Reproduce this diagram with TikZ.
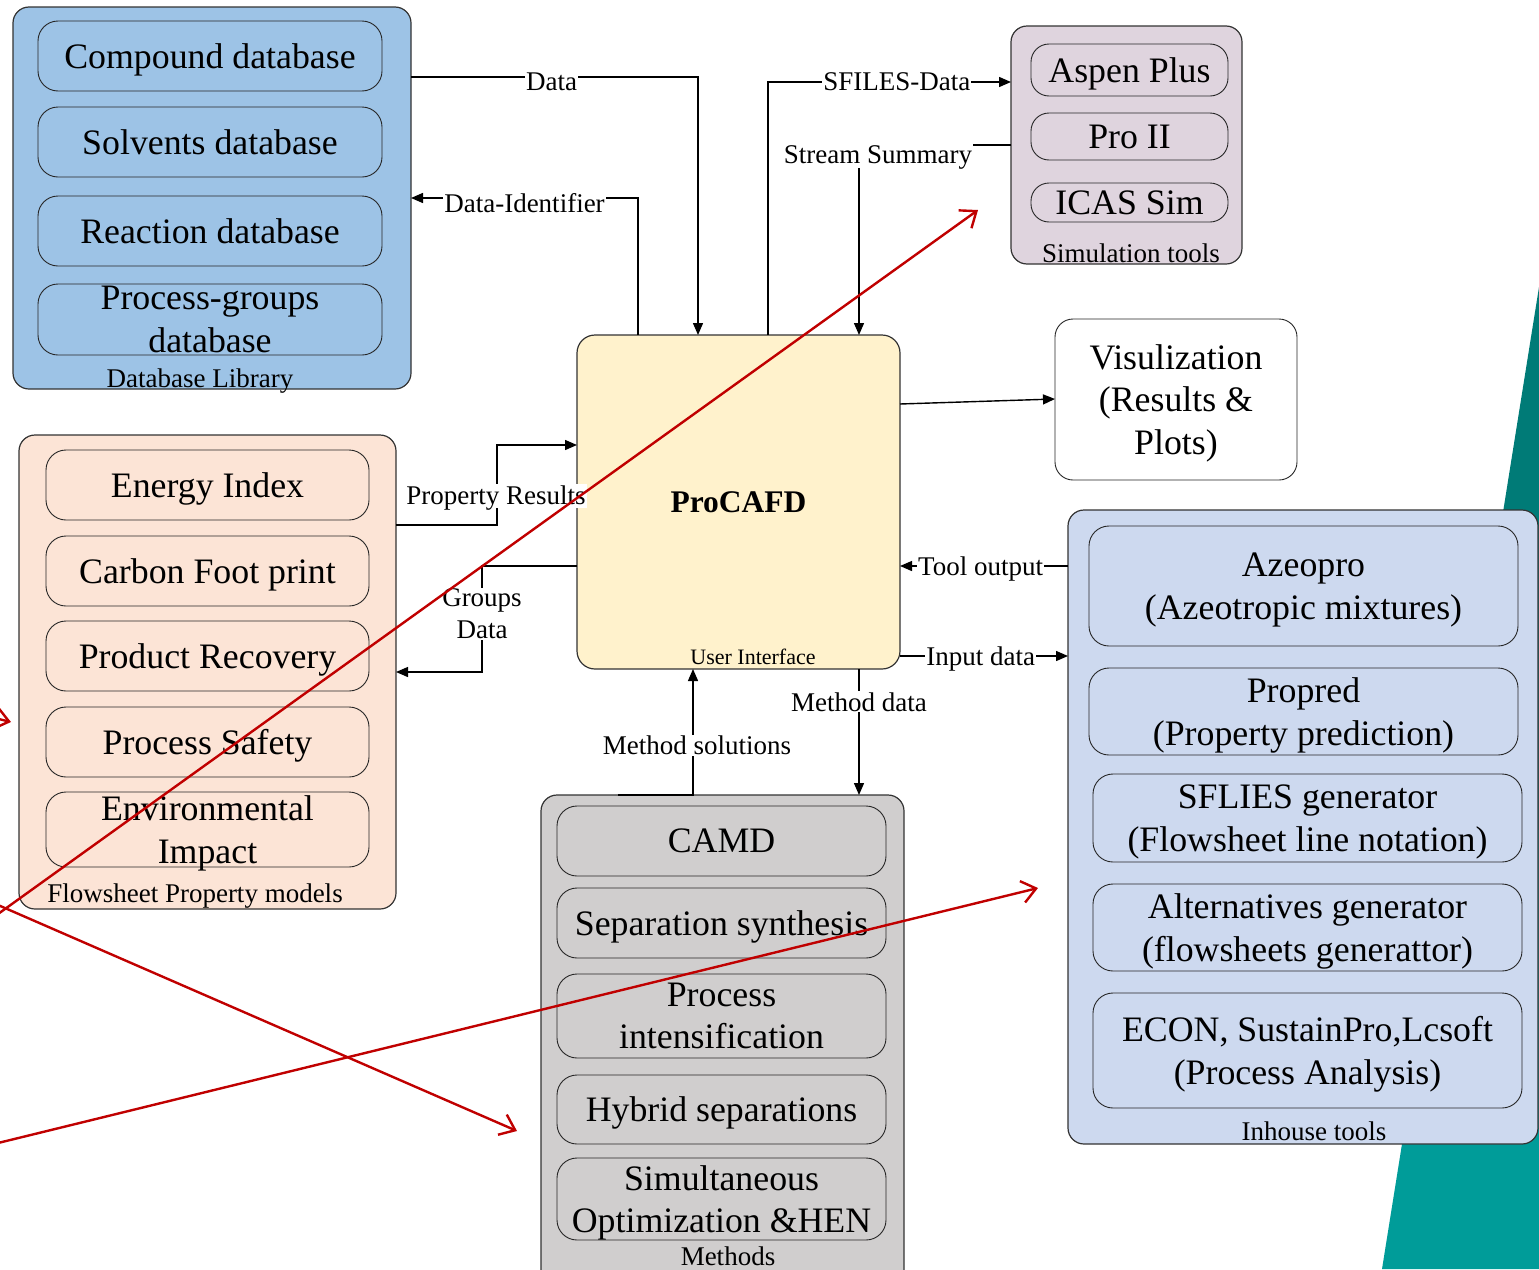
\documentclass[tikz,border=0pt]{standalone}
\usepackage{fontspec}
\setmainfont{Liberation Serif}
\usetikzlibrary{arrows.meta}

\definecolor{dbfill}{HTML}{9DC3E6}
\definecolor{simfill}{HTML}{DFD4DE}
\definecolor{corefill}{HTML}{FFF2CC}
\definecolor{propfill}{HTML}{FCE4D6}
\definecolor{methfill}{HTML}{D0CECE}
\definecolor{toolfill}{HTML}{CDD9EF}
\definecolor{tealdark}{HTML}{007B77}
\definecolor{teallight}{HTML}{009C99}
\definecolor{redline}{HTML}{C00000}

\tikzset{
  container/.style={draw=black!80, line width=1.2pt, rounded corners=16pt,
    inner sep=0pt, outer sep=0pt},
  item/.style={draw=black!85, line width=0.9pt, rounded corners=20pt,
    inner sep=0pt, outer sep=0pt, align=center, text depth=0pt,
    font=\fontsize{35.8}{42.5}\selectfont},
  caption/.style={inner sep=0pt, text depth=0pt, font=\fontsize{27}{32}\selectfont},
  lbl/.style={fill=white, inner sep=1pt, align=center, text depth=0pt,
    font=\fontsize{27}{32}\selectfont},
  plain/.style={line width=1.4pt},
  link/.style={line width=1.4pt, -{Triangle[length=12pt,width=10pt]}},
  redarrow/.style={draw=redline, line width=2.4pt,
    -{Straight Barb[length=14pt,width=22pt]}}
}

\begin{document}
\begin{tikzpicture}[x=1pt,y=-1pt]
\useasboundingbox (0,0) rectangle (1539,1269);
\clip (0,0) rectangle (1539,1269);

% teal band on the right
\fill[tealdark] (1539,287) -- (1452.2,830) -- (1539,830) -- cycle;
\fill[teallight] (1452.2,830) -- (1382,1269) -- (1539,1269) -- (1539,830) -- cycle;

% ---------------- Database library
\node[container, fill=dbfill, minimum width=398pt, minimum height=382pt] (dblib) at (212,198) {};
\node[item, minimum width=344pt, minimum height=70pt] (compound) at (210,56) {Compound database};
\node[item, minimum width=344pt, minimum height=70pt] (solvents) at (210,142) {Solvents database};
\node[item, minimum width=344pt, minimum height=70pt] (reaction) at (210,231) {Reaction database};
\node[item, minimum width=344pt, minimum height=71pt] (pgroups) at (210,319.5) {Process-groups\\database};
\node[caption] (dbcap) at (200,378) {Database Library};

% ---------------- Simulation tools
\node[container, fill=simfill, minimum width=231pt, minimum height=238pt] (simtools) at (1126.5,145) {};
\node[item, rounded corners=18pt, minimum width=197pt, minimum height=52pt] (aspen) at (1129.5,70) {Aspen Plus};
\node[item, rounded corners=18pt, minimum width=197pt, minimum height=47pt] (proii) at (1129.5,136.5) {Pro II};
\node[item, rounded corners=18pt, minimum width=197pt, minimum height=39pt] (icas) at (1129.5,202.5) {ICAS Sim};
\node[caption] (simcap) at (1131,253) {Simulation tools};

% ---------------- Core
\node[container, fill=corefill, rounded corners=18pt, minimum width=323pt, minimum height=334pt,
      font=\bfseries\fontsize{31.5}{38}\selectfont] (procafd) at (738.5,502) {ProCAFD};
\node[inner sep=0pt, font=\fontsize{22}{26}\selectfont] (ui) at (753,657) {User Interface};

% ---------------- Visualization
\node[item, fill=white, rounded corners=18pt, minimum width=242pt, minimum height=161pt] (visu) at (1176,399.5) {Visulization\\(Results \&\\Plots)};

% ---------------- Flowsheet property models
\node[container, fill=propfill, minimum width=377pt, minimum height=474pt] (fpm) at (207.5,672) {};
\node[item, minimum width=323pt, minimum height=70pt] (energy) at (207.5,485) {Energy Index};
\node[item, minimum width=323pt, minimum height=70pt] (carbon) at (207.5,571) {Carbon Foot print};
\node[item, minimum width=323pt, minimum height=70pt] (recovery) at (207.5,656) {Product Recovery};
\node[item, minimum width=323pt, minimum height=70pt] (safety) at (207.5,742) {Process Safety};
\node[item, minimum width=323pt, minimum height=75pt] (environ) at (207.5,829.5) {Environmental\\Impact};
\node[caption] (fpmcap) at (195,893) {Flowsheet Property models};

% ---------------- Methods
\node[container, fill=methfill, minimum width=363pt, minimum height=490pt] (methods) at (722.5,1040) {};
\node[item, minimum width=329pt, minimum height=70pt] (camd) at (721.5,841) {CAMD};
\node[item, minimum width=329pt, minimum height=70pt] (sepsyn) at (721.5,923) {Separation synthesis};
\node[item, minimum width=329pt, minimum height=84pt] (pint) at (721.5,1016) {Process\\intensification};
\node[item, minimum width=329pt, minimum height=69pt] (hybrid) at (721.5,1109.5) {Hybrid separations};
\node[item, minimum width=329pt, minimum height=82pt] (simopt) at (721.5,1199) {Simultaneous\\Optimization \&HEN};
\node[caption] (methcap) at (728,1256) {Methods};

% ---------------- Inhouse tools
\node[container, fill=toolfill, minimum width=470pt, minimum height=634pt] (inhouse) at (1303,827) {};
\node[item, minimum width=429pt, minimum height=120pt] (azeo) at (1303.5,586) {Azeopro\\(Azeotropic mixtures)};
\node[item, minimum width=429pt, minimum height=87pt] (propred) at (1303.5,711.5) {Propred\\(Property prediction)};
\node[item, minimum width=429pt, minimum height=88pt] (sfiles) at (1307.5,818) {SFLIES generator\\(Flowsheet line notation)};
\node[item, minimum width=429pt, minimum height=87pt] (altgen) at (1307.5,927.5) {Alternatives generator\\(flowsheets generattor)};
\node[item, minimum width=429pt, minimum height=115pt] (econ) at (1307.5,1050.5) {ECON, SustainPro,Lcsoft\\(Process Analysis)};
\node[caption] (inhcap) at (1314,1131) {Inhouse tools};

% ---------------- Connectors
\draw[link] (dblib.east |- 0,77) -| (procafd.north -| 698,0)
  node[lbl, pos=0.245, yshift=-5pt] (ldata) {Data};
\draw[link] (procafd.north -| 638,0) |- (dblib.east |- 0,198)
  node[lbl, pos=0.75, yshift=-5pt] (ldataid) {Data-Identifier};
\draw[link] (procafd.north -| 768,0) |- (simtools.west |- 0,82)
  node[lbl, pos=0.765] (lsfiles) {SFILES-Data};
\draw[link] (simtools.west |- 0,145) -| (procafd.north -| 859,0)
  node[lbl, pos=0.5, xshift=19pt, yshift=-11pt, text depth=0.28em, inner ysep=2pt] (lstream) {Stream Summary};

\draw[link] (fpm.east |- 0,525) -- (497,525) -- (497,445) -- (procafd.west |- 0,445);
\node[lbl, text depth=0.25em] (lprop) at (496,496) {Property Results};
\draw[link] (procafd.west |- 0,566) -- (482,566) -- (482,672) -- (fpm.east |- 0,672);
\node[lbl] (lgroups) at (482,614) {Groups\\Data};

\draw[link] (procafd.east |- 0,404) -- (visu.west |- 0,399);
\draw[link] (inhouse.west |- 0,566) -- (procafd.east |- 0,566)
  node[lbl, pos=0.52] (ltool) {Tool output};
\draw[link] (procafd.east |- 0,656) -- (inhouse.west |- 0,656)
  node[lbl, pos=0.48] (linput) {Input data};

\draw[link] (procafd.south -| 859,0) -- (methods.north -| 859,0)
  node[lbl, pos=0.26] (lmdata) {Method data};
\draw[link] (methods.north -| 618,0) -| (procafd.south -| 693,0)
  node[lbl, pos=0.696, xshift=4pt] (lmsol) {Method solutions};

% ---------------- Red overlay arrows
\coordinate (ra1) at (-2,914);
\coordinate (ra2) at (978,210);
\coordinate (rb1) at (-2,905);
\coordinate (rb2) at (517,1131);
\coordinate (rc1) at (-2,1143);
\coordinate (rc2) at (1038,888);
\coordinate (rd1) at (-30,712);
\coordinate (rd2) at (11,722);
\draw[redarrow] (ra1) -- (ra2);
\draw[redarrow] (rb1) -- (rb2);
\draw[redarrow] (rc1) -- (rc2);
\draw[redarrow] (rd1) -- (rd2);
\end{tikzpicture}
\end{document}
